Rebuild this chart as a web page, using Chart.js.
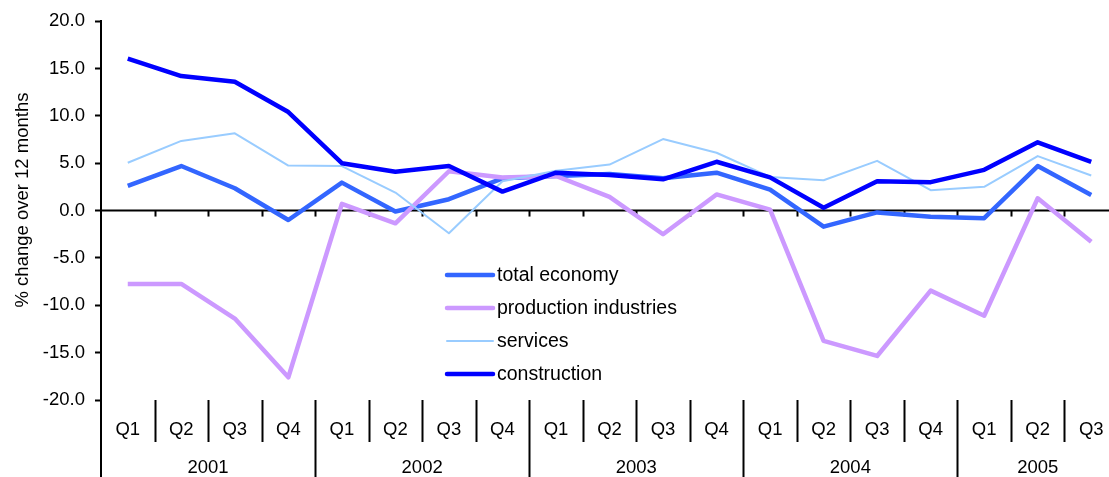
<!DOCTYPE html>
<html>
<head>
<meta charset="utf-8">
<script src="https://cdn.jsdelivr.net/npm/chart.js@4/dist/chart.umd.min.js"></script>
<style>
  html, body { margin: 0; padding: 0; background: #fff; overflow: hidden; }
  #wrap { width: 1118px; height: 477px; position: relative; }
</style>
</head>
<body>
<div id="wrap"><canvas id="chart"></canvas></div>
<script>
var quarters = ['Q1','Q2','Q3','Q4','Q1','Q2','Q3','Q4','Q1','Q2','Q3','Q4','Q1','Q2','Q3','Q4','Q1','Q2','Q3'];
var years    = ['2001','2002','2003','2004','2005'];

var totalEconomy = [2.6, 4.7, 2.35, -1.0, 2.95, -0.1, 1.2, 3.4, 3.65, 3.85, 3.4, 4.0, 2.2, -1.7, -0.2, -0.65, -0.8, 4.7, 1.65];
var production   = [-7.75, -7.75, -11.4, -17.6, 0.7, -1.35, 4.15, 3.5, 3.65, 1.45, -2.5, 1.7, 0.1, -13.75, -15.35, -8.45, -11.1, 1.3, -3.3];
var services     = [5.05, 7.35, 8.15, 4.75, 4.7, 1.9, -2.4, 3.1, 4.2, 4.85, 7.55, 6.1, 3.55, 3.2, 5.25, 2.15, 2.5, 5.75, 3.7];
var construction = [16.05, 14.2, 13.6, 10.4, 5.0, 4.1, 4.7, 2.0, 4.0, 3.75, 3.3, 5.15, 3.5, 0.3, 3.1, 3.0, 4.3, 7.2, 5.15];

var FONT = '"Liberation Sans", Arial, sans-serif';

function series(label, data, color, width, order) {
  return {
    label: label, data: data, borderColor: color, backgroundColor: color,
    borderWidth: width, pointRadius: 0, tension: 0, fill: false, order: order,
    borderJoinStyle: 'round'
  };
}

// category axis at zero, quarter/year labels below the plot, y title
var quarterAxis = {
  id: 'quarterAxis',
  beforeDatasetsDraw: function(chart) {
    var ctx = chart.ctx, y = chart.scales.y, area = chart.chartArea;
    var step = (area.right - area.left) / quarters.length;
    var y0 = y.getPixelForValue(0);
    ctx.save();
    ctx.strokeStyle = '#000';
    ctx.lineWidth = 2;
    ctx.beginPath();
    ctx.moveTo(area.left, y0);
    ctx.lineTo(area.right, y0);
    ctx.stroke();
    for (var k = 1; k <= quarters.length; k++) {
      var px = Math.round(area.left + k * step) + 0.5;
      ctx.beginPath();
      ctx.moveTo(px, y0);
      ctx.lineTo(px, y0 + 6);
      ctx.stroke();
    }
    ctx.restore();
  },
  afterDraw: function(chart) {
    var ctx = chart.ctx, x = chart.scales.x, area = chart.chartArea;
    var step = (area.right - area.left) / quarters.length;
    var bottom = area.bottom;
    ctx.save();
    ctx.strokeStyle = '#000';
    ctx.lineWidth = 2;
    for (var k = 0; k <= quarters.length; k++) {
      var px = Math.round(area.left + k * step) + (k === 0 ? 0 : 0.5);
      ctx.beginPath();
      ctx.moveTo(px, bottom);
      ctx.lineTo(px, k % 4 === 0 ? chart.height : bottom + 42);
      ctx.stroke();
    }
    ctx.fillStyle = '#000';
    ctx.font = '18.5px ' + FONT;
    ctx.textAlign = 'center';
    ctx.textBaseline = 'middle';
    quarters.forEach(function(q, i) {
      ctx.fillText(q, x.getPixelForValue(i), bottom + 30);
    });
    years.forEach(function(yr, j) {
      var first = j * 4, last = Math.min(first + 3, quarters.length - 1);
      var l = area.left + first * step, r = area.left + (last + 1) * step;
      ctx.fillText(yr, (l + r) / 2, bottom + 68);
    });

    ctx.translate(23, 200);
    ctx.rotate(-Math.PI / 2);
    ctx.fillText('% change over 12 months', 0, 0);
    ctx.restore();
  }
};

var legendBox = {
  id: 'legendBox',
  afterDraw: function(chart) {
    var ctx = chart.ctx;
    var rows = [
      { name: 'total economy',         color: '#3366FF', width: 4.5 },
      { name: 'production industries', color: '#CC99FF', width: 4.5 },
      { name: 'services',              color: '#99CCFF', width: 2 },
      { name: 'construction',          color: '#0000FF', width: 4.5 }
    ];
    ctx.save();
    ctx.font = '19.5px ' + FONT;
    ctx.textBaseline = 'middle';
    ctx.textAlign = 'left';
    rows.forEach(function(r, i) {
      var yy = 275 + i * 33;
      ctx.strokeStyle = r.color;
      ctx.lineWidth = r.width;
      ctx.lineCap = 'round';
      ctx.beginPath();
      ctx.moveTo(447, yy);
      ctx.lineTo(493, yy);
      ctx.stroke();
      ctx.fillStyle = '#000';
      ctx.fillText(r.name, 497, yy + 1);
    });
    ctx.restore();
  }
};

new Chart(document.getElementById('chart'), {
  type: 'line',
  data: {
    labels: quarters,
    datasets: [
      series('total economy', totalEconomy, '#3366FF', 4.5, 4),
      series('production industries', production, '#CC99FF', 4.5, 3),
      series('services', services, '#99CCFF', 2, 2),
      series('construction', construction, '#0000FF', 4.5, 1)
    ]
  },
  options: {
    responsive: true,
    maintainAspectRatio: false,
    animation: false,
    layout: { padding: { top: 21, bottom: 77, left: 0, right: 0 } },
    plugins: { legend: { display: false }, tooltip: { enabled: false } },
    scales: {
      x: { type: 'category', offset: true, display: false },
      y: {
        min: -20, max: 20,
        afterFit: function(s) { s.width = 101; },
        ticks: {
          stepSize: 5, padding: 10, color: '#000',
          font: { family: FONT, size: 18.5 },
          callback: function(v) { return v.toFixed(1); }
        },
        grid: { drawOnChartArea: false, tickLength: 6, color: '#000', tickWidth: 2 },
        border: { display: true, color: '#000', width: 2 }
      }
    }
  },
  plugins: [quarterAxis, legendBox]
});
</script>
</body>
</html>
